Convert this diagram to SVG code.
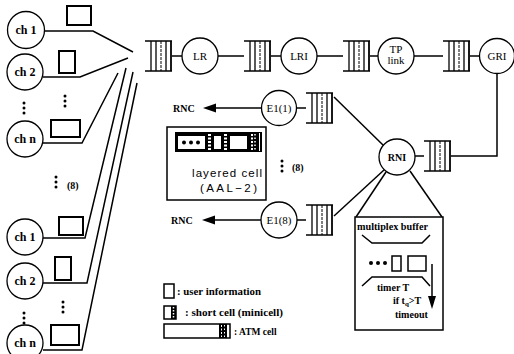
<svg xmlns="http://www.w3.org/2000/svg" xmlns:xlink="http://www.w3.org/1999/xlink" width="514" height="354" viewBox="0 0 514 354">
<style>
.ln{stroke:#000;stroke-width:1.5;fill:none}
.nd{stroke:#000;stroke-width:1.3;fill:#fff}
.cell{stroke:#000;stroke-width:2;fill:#fff}
.lb{font-family:"Liberation Serif",serif;font-weight:bold;fill:#000}
.cl{font-family:"Liberation Serif",serif;font-size:11px;fill:#000;text-anchor:middle}
.sn{font-family:"Liberation Sans",sans-serif;fill:#000}
</style>
<defs>
<g id="q">
<line x1="0" y1="0" x2="27" y2="0" stroke="#000" stroke-width="1.5"/>
<line x1="0" y1="30" x2="27" y2="30" stroke="#000" stroke-width="1.5"/>
<line x1="6" y1="0" x2="6" y2="30" stroke="#000" stroke-width="1.3"/>
<line x1="11" y1="0" x2="11" y2="30" stroke="#000" stroke-width="1.3"/>
<line x1="16" y1="0" x2="16" y2="30" stroke="#000" stroke-width="1" stroke-dasharray="3 1"/>
<line x1="21" y1="0" x2="21" y2="30" stroke="#000" stroke-width="1.3"/>
<line x1="26" y1="0" x2="26" y2="30" stroke="#000" stroke-width="1.8"/>
</g>
<g id="dots3"><circle cx="0" cy="0" r="1.5"/><circle cx="0" cy="5" r="1.5"/><circle cx="0" cy="10" r="1.5"/></g>
</defs>
<rect width="514" height="354" fill="#fff"/>

<g id="connectors">
<polyline class="ln" points="44,31 93,31 133,52"/>
<polyline class="ln" points="43,77 80,77 128,58"/>
<polyline class="ln" points="43,143 82,143 118,73"/>
<polyline class="ln" points="43,238 85,238 126,68"/>
<polyline class="ln" points="43,283 87,283 133,72"/>
<polyline class="ln" points="43,350 82,350 137,83"/>
<line class="ln" x1="172" y1="56" x2="182" y2="56"/>
<line class="ln" x1="218" y1="56" x2="244" y2="56"/>
<line class="ln" x1="271" y1="56" x2="281" y2="56"/>
<line class="ln" x1="317" y1="56" x2="343" y2="56"/>
<line class="ln" x1="370" y1="56" x2="378" y2="56"/>
<line class="ln" x1="414" y1="56" x2="443" y2="56"/>
<line class="ln" x1="470" y1="56" x2="479" y2="56"/>
<polyline class="ln" points="497,74 497,156 451,156"/>
<line class="ln" x1="415" y1="156" x2="424" y2="156"/>
<line class="ln" x1="334" y1="97" x2="384" y2="146"/>
<line class="ln" x1="334" y1="216" x2="384" y2="170"/>
<line class="ln" x1="296" y1="108" x2="306" y2="108"/>
<line class="ln" x1="297" y1="220" x2="306" y2="220"/>
<line class="ln" x1="262" y1="108" x2="212" y2="108"/>
<polygon points="203,108 216,103.5 216,112.5" fill="#000"/>
<line class="ln" x1="261" y1="220" x2="211" y2="220"/>
<polygon points="202,220 215,215.5 215,224.5" fill="#000"/>
<line class="ln" x1="386" y1="172" x2="356" y2="217"/>
<line class="ln" x1="410" y1="171" x2="442" y2="217"/>
</g>

<g id="channels-top">
<g id="ch1a"><circle class="nd" cx="26" cy="30" r="18.5"/><text class="lb" x="26" y="34" font-size="12" text-anchor="middle">ch 1</text></g>
<g id="ch2a"><circle class="nd" cx="25" cy="72" r="18"/><text class="lb" x="25" y="76" font-size="12" text-anchor="middle">ch 2</text></g>
<g id="chna"><circle class="nd" cx="25" cy="139" r="18"/><text class="lb" x="25" y="143" font-size="12" text-anchor="middle">ch n</text></g>
<rect class="cell" x="67" y="6" width="24" height="19"/>
<rect class="cell" x="59" y="51" width="16" height="22"/>
<rect class="cell" x="51" y="120" width="29" height="17"/>
<use xlink:href="#dots3" x="24" y="103"/>
<use xlink:href="#dots3" x="65" y="96"/>
</g>

<g id="group-sep">
<use xlink:href="#dots3" x="56" y="177"/>
<text class="lb" x="67" y="189" font-size="10">(8)</text>
</g>

<g id="channels-bottom">
<g id="ch1b"><circle class="nd" cx="25" cy="237" r="18"/><text class="lb" x="25" y="241" font-size="12" text-anchor="middle">ch 1</text></g>
<g id="ch2b"><circle class="nd" cx="25" cy="281" r="18"/><text class="lb" x="25" y="285" font-size="12" text-anchor="middle">ch 2</text></g>
<g id="chnb"><circle class="nd" cx="25" cy="343" r="18"/><text class="lb" x="25" y="347" font-size="12" text-anchor="middle">ch n</text></g>
<rect class="cell" x="59" y="217" width="24" height="18"/>
<rect class="cell" x="55" y="257" width="16" height="23"/>
<rect class="cell" x="51" y="325" width="28" height="20"/>
<use xlink:href="#dots3" x="24" y="313"/>
<use xlink:href="#dots3" x="63" y="302"/>
</g>

<g id="q1"><use xlink:href="#q" x="145" y="41"/></g>
<g id="LR"><circle class="nd" cx="200" cy="56" r="18"/><text class="cl" x="200" y="60" font-size="10">LR</text></g>
<g id="q2"><use xlink:href="#q" x="244" y="41"/></g>
<g id="LRI"><circle class="nd" cx="299" cy="56" r="18"/><text class="cl" x="299" y="60" font-size="10">LRI</text></g>
<g id="q3"><use xlink:href="#q" x="343" y="41"/></g>
<g id="TPlink"><circle class="nd" cx="396" cy="56" r="18"/><text class="cl" x="396" y="53" font-size="10">TP</text><text class="cl" x="396" y="64" font-size="10">link</text></g>
<g id="q4"><use xlink:href="#q" x="443" y="41"/></g>
<g id="GRI"><circle class="nd" cx="497" cy="56" r="17.5"/><text class="cl" x="497" y="60" font-size="10">GRI</text></g>

<g id="q5"><use xlink:href="#q" x="424" y="141"/></g>
<g id="RNI"><circle class="nd" cx="397" cy="157" r="18"/><text class="lb" x="397" y="161" font-size="10" text-anchor="middle">RNI</text></g>

<g id="E1-1"><circle class="nd" cx="279" cy="108" r="17.5"/><text class="cl" x="279" y="112" font-size="11">E1(1)</text></g>
<g id="qE1"><use xlink:href="#q" x="306" y="93"/></g>
<g id="E1-8"><circle class="nd" cx="279" cy="220" r="18"/><text class="cl" x="279" y="224" font-size="11">E1(8)</text></g>
<g id="qE8"><use xlink:href="#q" x="306" y="205"/></g>
<g id="RNC1"><text class="lb" x="173" y="112" font-size="10">RNC</text></g>
<g id="RNC8"><text class="lb" x="171" y="224" font-size="10">RNC</text></g>

<g id="layered-cell">
<rect x="167" y="127" width="99" height="73" fill="#fff" stroke="#000" stroke-width="1.5"/>
<rect x="175" y="132" width="87" height="20" fill="#000"/>
<rect x="178" y="136" width="27" height="13" fill="#fff"/>
<circle cx="184" cy="142.5" r="2"/><circle cx="191" cy="142.5" r="2"/><circle cx="198" cy="142.5" r="2"/>
<line x1="209.5" y1="134" x2="209.5" y2="151" stroke="#fff" stroke-width="3" stroke-dasharray="2 1.5"/>
<rect x="214" y="136" width="7" height="13" fill="#fff"/>
<line x1="225.5" y1="134" x2="225.5" y2="151" stroke="#fff" stroke-width="3" stroke-dasharray="2 1.5"/>
<rect x="230" y="136" width="17" height="13" fill="#fff"/>
<line x1="252" y1="134" x2="252" y2="151" stroke="#fff" stroke-width="2" stroke-dasharray="2 1.5"/>
<line x1="255" y1="134" x2="255" y2="151" stroke="#fff" stroke-width="1.5" stroke-dasharray="1.5 2"/>
<line x1="259.5" y1="133" x2="259.5" y2="151" stroke="#fff" stroke-width="1"/>
<text class="sn" x="192" y="177" font-size="11.5" textLength="70" lengthAdjust="spacing">layered cell</text>
<text class="sn" x="200" y="192" font-size="11.5" textLength="57" lengthAdjust="spacing">(AAL−2)</text>
</g>
<g id="layer-sep">
<use xlink:href="#dots3" x="282" y="161"/>
<text class="lb" x="292" y="171" font-size="10">(8)</text>
</g>

<g id="mux-buffer">
<rect x="355" y="217" width="88" height="113" fill="#fff" stroke="#000" stroke-width="1.5"/>
<text class="lb" x="357" y="230" font-size="10" textLength="71" lengthAdjust="spacingAndGlyphs">multiplex buffer</text>
<polyline class="ln" points="362,235 372,243 422,243 430,235"/>
<circle cx="371" cy="263" r="2"/><circle cx="378" cy="263" r="2"/><circle cx="385" cy="263" r="2"/>
<rect x="392" y="256" width="9" height="15" fill="#fff" stroke="#000" stroke-width="1.5"/>
<rect x="408" y="256" width="18" height="15" fill="#fff" stroke="#000" stroke-width="1.5"/>
<polyline class="ln" points="362,286 372,277 422,277 430,286"/>
<text class="lb" x="377" y="291" font-size="10">timer T</text>
<line class="ln" x1="432" y1="264" x2="432" y2="298"/>
<polygon points="432,309 428,296 436,296" fill="#000"/>
<text class="lb" x="393" y="304" font-size="10">if t<tspan font-size="7" dy="2">q</tspan><tspan dy="-2">&gt;T</tspan></text>
<text class="lb" x="395" y="318" font-size="10">timeout</text>
</g>

<g id="legend">
<rect x="164" y="284" width="10" height="14" fill="#fff" stroke="#000" stroke-width="1.5"/>
<text class="lb" x="177" y="295" font-size="9.5" textLength="84" lengthAdjust="spacingAndGlyphs">: user information</text>
<rect x="164" y="306" width="12" height="13" fill="#fff" stroke="#000" stroke-width="1.5"/>
<rect x="171" y="306" width="5" height="13" fill="#000"/>
<line x1="173.5" y1="307" x2="173.5" y2="318" stroke="#fff" stroke-width="1.5" stroke-dasharray="1.5 1.5"/>
<text class="lb" x="185" y="316" font-size="9.5" textLength="98" lengthAdjust="spacingAndGlyphs">: short cell (minicell)</text>
<rect x="164" y="324" width="66" height="14" fill="#fff" stroke="#000" stroke-width="1.5"/>
<rect x="219" y="324" width="8" height="14" fill="#000"/>
<line x1="221.5" y1="325" x2="221.5" y2="337" stroke="#fff" stroke-width="1" stroke-dasharray="2 1.5"/>
<line x1="224.5" y1="325" x2="224.5" y2="337" stroke="#fff" stroke-width="1" stroke-dasharray="1.5 2"/>
<text class="lb" x="234" y="335" font-size="9.5">: ATM cell</text>
</g>
</svg>
